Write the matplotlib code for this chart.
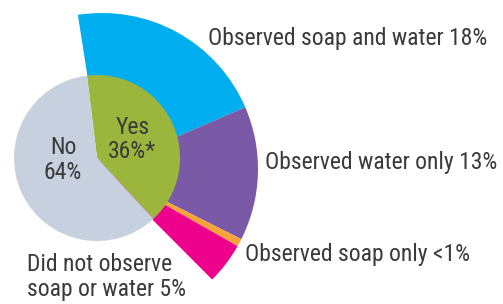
import matplotlib
matplotlib.use("Agg")
import matplotlib.pyplot as plt

# ------------------------------------------------------------
# Datos (porcentajes mostrados y tamaños de sector)
# ------------------------------------------------------------
inner_labels = ["Yes", "36%*", "No\n64%"]
inner_sizes = [40, 60]          # drawn share (picture draws "Yes" wider than 36%)
inner_colors = ["#9CB63D", "#C7D0DF"]

outer_labels = [
    "Observed soap and water 18%",
    "Observed water only 13%",
    "Observed soap only <1%",
    "Did not observe\nsoap or water 5%",
]
outer_sizes = [21.0, 13.9, 0.8, 4.3]   # drawn share of the full circle
outer_colors = ["#00ADEE", "#7A5AA6", "#F7A339", "#EC008C"]

TEXT = "#3A3A3A"
FONT = ["Roboto Condensed", "DejaVu Sans"]

fig = plt.figure(figsize=(5.03, 3.04), dpi=100)
ax = fig.add_axes([0, 0, 1, 1])

# anillo exterior (solo la parte "Yes")
ax.pie([s / 100 for s in outer_sizes], colors=outer_colors, radius=156,
       center=(102, 135), startangle=98.9, counterclock=False,
       normalize=False, wedgeprops=dict(linewidth=0))

# pastel interior
ax.pie([s / 100 for s in inner_sizes], colors=inner_colors, radius=83,
       center=(97, 146), startangle=96.9, counterclock=False,
       normalize=False, wedgeprops=dict(linewidth=0))

ax.set_xlim(0, 503)
ax.set_ylim(0, 304)
ax.set_aspect("equal")
ax.axis("off")

fs = 17
ax.text(133, 177, inner_labels[0], ha="center", va="center", fontsize=fs,
        color=TEXT, family=FONT)
ax.text(132, 152, inner_labels[1], ha="center", va="center", fontsize=fs,
        color=TEXT, family=FONT)
ax.text(63, 144, inner_labels[2], ha="center", va="center", fontsize=fs,
        color=TEXT, family=FONT, linespacing=1.15)

ax.text(208, 266, outer_labels[0], ha="left", va="center", fontsize=fs,
        color=TEXT, family=FONT)
ax.text(265, 141, outer_labels[1], ha="left", va="center", fontsize=fs,
        color=TEXT, family=FONT)
ax.text(245, 49, outer_labels[2], ha="left", va="center", fontsize=fs,
        color=TEXT, family=FONT)
ax.text(27, 27, outer_labels[3], ha="left", va="center", fontsize=fs,
        color=TEXT, family=FONT, linespacing=1.1)

fig.savefig("out.png", dpi=100)
